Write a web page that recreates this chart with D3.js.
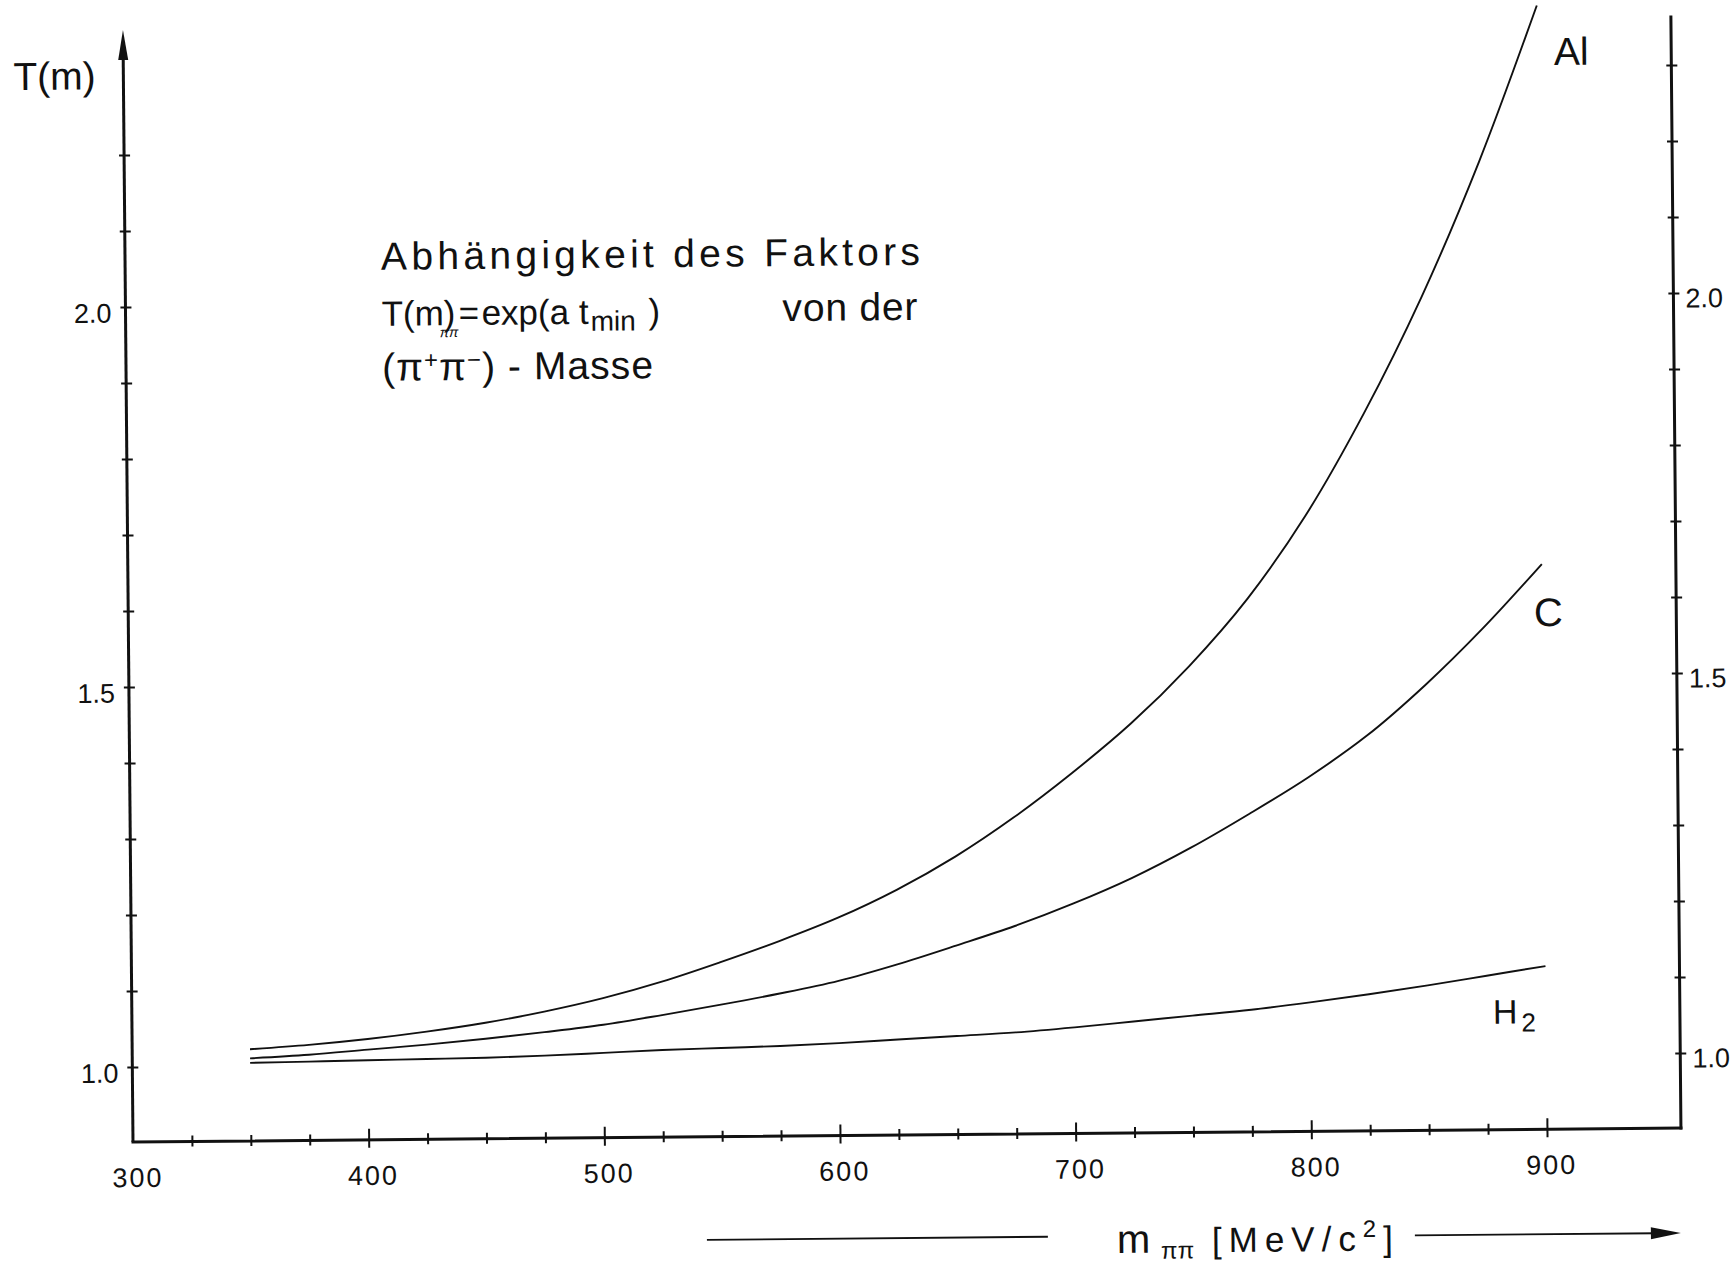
<!DOCTYPE html>
<html>
<head>
<meta charset="utf-8">
<script src="https://cdn.jsdelivr.net/npm/d3@7"></script>
<style>
  html, body { margin: 0; padding: 0; background: #fff; }
  svg { display: block; }
  text { font-family: "Liberation Sans", Arial, sans-serif; fill: #111; }
</style>
</head>
<body>
<svg id="chart" width="1734" height="1264"></svg>
<script>
// pi+ pi- invariant mass, MeV/c^2
const massValues = [350, 375, 400, 425, 450, 475, 500, 525, 550, 575, 600, 625,
                    650, 675, 700, 725, 750, 775, 800, 825, 850, 875, 900];

// T(m) = exp(a * t_min) for the three targets
const seriesAl = [1.022, 1.027, 1.034, 1.043, 1.054, 1.068, 1.085, 1.106, 1.131, 1.158, 1.188, 1.224,
                  1.267, 1.318, 1.376, 1.440, 1.515, 1.603, 1.712, 1.845, 1.998, 2.176, 2.380];
const seriesC  = [1.010, 1.014, 1.020, 1.026, 1.033, 1.041, 1.050, 1.062, 1.075, 1.089, 1.105, 1.126,
                  1.150, 1.175, 1.204, 1.237, 1.276, 1.320, 1.367, 1.421, 1.487, 1.562, 1.645];
const seriesH2 = [1.004, 1.005, 1.006, 1.007, 1.008, 1.010, 1.013, 1.016, 1.018, 1.020, 1.023, 1.027,
                  1.031, 1.035, 1.041, 1.048, 1.055, 1.062, 1.071, 1.081, 1.092, 1.104, 1.116];

const seriesNames = ["Al", "C", "H2"];

const xTickValues = [300, 400, 500, 600, 700, 800, 900];
const xTickLabels = ["300", "400", "500", "600", "700", "800", "900"];
const yTickValues = [1.0, 1.5, 2.0];
const yTickLabels = ["1.0", "1.5", "2.0"];

const ink = "#111";
const tilt = -0.518;            // the whole drawing sits slightly askew on the sheet
const frame = { top: 30, rightTop: 31, bottom: 1142, right: 1681 };

const x = d3.scaleLinear().domain([300, 900]).range([133, 1547]);
const y = d3.scaleLinear().domain([1.0, 2.0]).range([1067, 307]);

const svg = d3.select("#chart");
svg.append("rect").attr("width", 1734).attr("height", 1264).attr("fill", "#fff");

const g = svg.append("g")
  .attr("transform", `rotate(${tilt}, ${x(300)}, ${frame.bottom})`);

// ---------- frame lines ----------
const x0 = x(300);
g.append("line")   // bottom
  .attr("x1", x0).attr("y1", frame.bottom).attr("x2", frame.right).attr("y2", frame.bottom)
  .attr("stroke", ink).attr("stroke-width", 3).attr("stroke-linecap", "square");
g.append("line")   // left, ending in an arrow
  .attr("x1", x0).attr("y1", frame.bottom).attr("x2", x0).attr("y2", frame.top + 20)
  .attr("stroke", ink).attr("stroke-width", 3);
g.append("path")
  .attr("d", `M${x0},${frame.top} L${x0 - 5},${frame.top + 30} L${x0 + 5},${frame.top + 30} Z`)
  .attr("fill", ink);
g.append("line")   // right
  .attr("x1", frame.right).attr("y1", frame.bottom).attr("x2", frame.right).attr("y2", frame.rightTop)
  .attr("stroke", ink).attr("stroke-width", 3).attr("stroke-linecap", "square");

// ---------- bottom axis ticks ----------
const xMinorTicks = d3.range(325, 901, 25);
const gx = g.append("g").attr("transform", `translate(0,${frame.bottom})`)
  .call(d3.axisBottom(x).tickValues(xMinorTicks).tickSize(0).tickFormat(""));
gx.select(".domain").remove();
gx.selectAll(".tick line")
  .attr("y1", d => d % 100 === 0 ? -11 : -6)
  .attr("y2", d => d % 100 === 0 ? 8 : 5)
  .attr("stroke", ink).attr("stroke-width", 2);

const gxl = g.append("g").attr("transform", `translate(0,${frame.bottom})`)
  .call(d3.axisBottom(x).tickValues(xTickValues).tickSize(0)
        .tickFormat((d, i) => xTickLabels[i]));
gxl.select(".domain").remove();
gxl.attr("font-family", null).attr("font-size", null);
gxl.selectAll(".tick text")
  .attr("fill", ink).attr("dy", null).attr("y", 45).attr("x", 4)
  .style("font-size", "27px").style("letter-spacing", "2px");

// ---------- left axis ----------
const yLeftTicks = d3.range(10, 23).map(v => v / 10);
const gyl = g.append("g").attr("transform", `translate(${x0},0)`)
  .call(d3.axisLeft(y).tickValues(yLeftTicks).tickSize(0).tickFormat(""));
gyl.select(".domain").remove();
gyl.selectAll(".tick line").attr("x1", -5).attr("x2", 6).attr("stroke", ink).attr("stroke-width", 2);

const gyll = g.append("g").attr("transform", `translate(${x0},0)`)
  .call(d3.axisLeft(y).tickValues(yTickValues).tickSize(0).tickFormat((d, i) => yTickLabels[i]));
gyll.select(".domain").remove();
gyll.attr("font-family", null).attr("font-size", null);
gyll.selectAll(".tick text")
  .attr("fill", ink).attr("dy", null).attr("x", -14).attr("y", 15)
  .style("font-size", "27px");

// ---------- right axis ----------
const yRightTicks = d3.range(10, 24).map(v => v / 10);
const gyr = g.append("g").attr("transform", `translate(${frame.right},0)`)
  .call(d3.axisRight(y).tickValues(yRightTicks).tickSize(0).tickFormat(""));
gyr.select(".domain").remove();
gyr.selectAll(".tick line").attr("x1", -5).attr("x2", 6).attr("stroke", ink).attr("stroke-width", 2);

const gyrl = g.append("g").attr("transform", `translate(${frame.right},0)`)
  .call(d3.axisRight(y).tickValues(yTickValues).tickSize(0).tickFormat((d, i) => yTickLabels[i]));
gyrl.select(".domain").remove();
gyrl.attr("font-family", null).attr("font-size", null);
gyrl.selectAll(".tick text")
  .attr("fill", ink).attr("dy", null).attr("x", 12).attr("y", 14)
  .style("font-size", "27px");

// ---------- curves ----------
const line = d3.line()
  .x(d => x(d.m))
  .y(d => y(d.t))
  .curve(d3.curveCatmullRom.alpha(0.5));

const curves = [seriesAl, seriesC, seriesH2].map((vals, i) => ({
  name: seriesNames[i],
  points: massValues.map((m, j) => ({ m: m, t: vals[j] }))
}));

g.selectAll("path.curve")
  .data(curves)
  .join("path")
  .attr("class", "curve")
  .attr("d", d => line(d.points))
  .attr("fill", "none")
  .attr("stroke", ink)
  .attr("stroke-width", 1.9)
  .attr("stroke-linejoin", "round");

// ---------- curve labels ----------
g.append("text").attr("x", 1581).attr("y", 78).attr("text-anchor", "middle")
  .style("font-size", "39px").text("Al");
g.append("text").attr("x", 1553).attr("y", 639).attr("text-anchor", "middle")
  .style("font-size", "40px").text("C");
const h2 = g.append("text").attr("x", 1494).attr("y", 1036).style("font-size", "34px");
h2.append("tspan").text("H");
h2.append("tspan").attr("dx", 4).attr("dy", 8).style("font-size", "26px").text("2");

// ---------- axis titles ----------
g.append("text").attr("x", 23).attr("y", 89).style("font-size", "39px").text("T(m)");

g.append("text").attr("x", 1116).attr("y", 1262).style("font-size", "40px").text("m");
g.append("text").attr("x", 1160).attr("y", 1268).style("font-size", "24px").text("ππ");
const unit = g.append("text").attr("x", 1211).attr("y", 1262)
  .attr("textLength", 181).attr("lengthAdjust", "spacing").style("font-size", "35px");
unit.append("tspan").text("[MeV/c");
unit.append("tspan").attr("dy", -14).style("font-size", "24px").text("2");
unit.append("tspan").attr("dy", 14).text("]");

g.append("line").attr("x1", 706).attr("x2", 1047).attr("y1", 1245).attr("y2", 1245)
  .attr("stroke", ink).attr("stroke-width", 1.8);
g.append("line").attr("x1", 1414).attr("x2", 1655).attr("y1", 1247).attr("y2", 1247)
  .attr("stroke", ink).attr("stroke-width", 1.8);
g.append("path").attr("d", "M1680,1247 L1650,1241 L1650,1253 Z").attr("fill", ink);

// ---------- description ----------
g.append("text").attr("x", 389).attr("y", 272)
  .attr("textLength", 539).attr("lengthAdjust", "spacing")
  .style("font-size", "39px").text("Abhängigkeit des Faktors");

// second line: T(m_ππ) = exp(a t_min)   von der
const l2 = g.append("text").attr("x", 389).attr("y", 328).style("font-size", "35px");
l2.append("tspan").attr("x", 389).attr("y", 328).text("T(m)");
l2.append("tspan").attr("x", 447).attr("y", 340).style("font-size", "14px")
  .style("font-style", "italic").text("ππ");
l2.append("tspan").attr("x", 466).attr("y", 328).text("=");
l2.append("tspan").attr("x", 489).attr("y", 328).text("exp(a t");
l2.append("tspan").attr("x", 598).attr("y", 335).style("font-size", "28px").text("min");
l2.append("tspan").attr("x", 656).attr("y", 328).text(")");

g.append("text").attr("x", 790).attr("y", 327)
  .attr("textLength", 135).attr("lengthAdjust", "spacing")
  .style("font-size", "39px").text("von der");

const l3 = g.append("text").attr("x", 389).attr("y", 383)
  .attr("textLength", 271).attr("lengthAdjust", "spacing")
  .style("font-size", "39px");
l3.append("tspan").text("(π");
l3.append("tspan").attr("dy", -12).style("font-size", "24px").text("+");
l3.append("tspan").attr("dy", 12).text("π");
l3.append("tspan").attr("dy", -12).style("font-size", "24px").text("−");
l3.append("tspan").attr("dy", 12).text(") - Masse");
</script>
</body>
</html>
